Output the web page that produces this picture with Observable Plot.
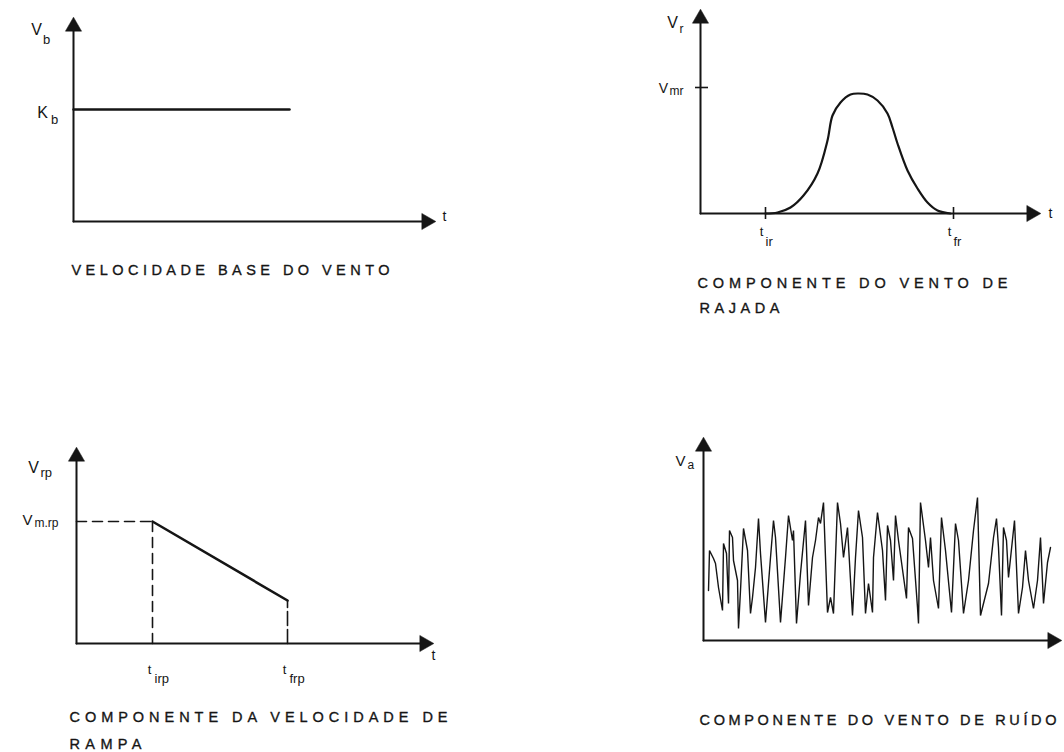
<!DOCTYPE html>
<html><head><meta charset="utf-8">
<script src="https://cdn.jsdelivr.net/npm/d3@7"></script>
<script src="https://cdn.jsdelivr.net/npm/@observablehq/plot@0.6"></script>
<style>
html,body{margin:0;padding:0;background:#fff;}
#fig{position:relative;width:1064px;height:752px;overflow:hidden;background:#fff;}
#fig svg{position:absolute;overflow:visible;}
</style></head><body><div id="fig"></div>
<script>
// ---------- data (time / speed in figure units) ----------
// Panel 1: velocidade base
const baseT = [0, 216];
const baseV = [112, 112];
const baseCaption = ["VELOCIDADE BASE DO VENTO"];

// Panel 2: componente de rajada
const gustT = [65, 77, 90, 103, 117, 127, 132, 140, 150, 158, 167, 177, 187, 192, 197, 207, 217, 227, 237, 250];
const gustV = [0, 1, 6, 18, 40, 73, 98, 111, 119, 120, 119, 113, 100, 86, 70, 43, 25, 11, 3, 0];
const gustTicks = [65, 253];
const gustTickNames = ["ir", "fr"];
const gustVmr = 126;
const gustCaption = ["COMPONENTE DO VENTO DE", "RAJADA"];

// Panel 3: componente de rampa
const rampT = [76, 211];
const rampV = [122, 43];
const rampTickNames = ["irp", "frp"];
const rampCaption = ["COMPONENTE DA VELOCIDADE DE", "RAMPA"];

// Panel 4: componente de ruído
const noiseT = [5,6,10,12,15,19,20,23,25,26,29,30,34,35,37,40,44,47,49,52,55,57,62,67,70,72,77,82,85,89,90,93,97,102,105,109,112,115,117,120,124,127,130,134,137,140,144,149,152,155,159,162,165,169,170,174,179,182,184,187,190,192,195,203,205,209,214,215,217,222,225,227,230,235,238,242,248,252,255,260,265,270,274,277,285,290,293,295,298,300,303,305,311,315,319,322,325,330,334,337,340,344,347];
const noiseV = [50,90,82,77,53,30,97,87,37,110,103,80,60,12,50,112,90,27,43,73,122,87,18,83,120,103,18,83,125,100,110,17,67,120,35,83,100,123,117,138,28,43,27,138,117,83,113,25,83,130,103,27,57,28,83,128,90,40,115,100,60,125,100,42,113,102,33,17,138,100,73,103,60,32,123,90,28,117,100,27,60,110,143,25,57,103,122,93,25,113,100,63,120,27,53,90,60,32,60,103,37,78,93];
const noiseCaption = ["COMPONENTE DO VENTO DE RUÍDO"];

// ---------- helpers ----------
const FONT = "'Liberation Sans', Arial, sans-serif";
const INK = "#151515";
const CAP = 14.5;

function frame(xMax, yMax) {
  return [
    Plot.line([[0, 0], [xMax - 8, 0]], {stroke: INK, strokeWidth: 2}),
    Plot.line([[0, 0], [0, yMax - 8]], {stroke: INK, strokeWidth: 2}),
    Plot.dot([[xMax, 0]], {symbol: "triangle", r: 6, rotate: 90, fill: INK, stroke: INK, strokeWidth: 0.5, dx: -6}),
    Plot.dot([[0, yMax]], {symbol: "triangle", r: 6, fill: INK, stroke: INK, strokeWidth: 0.5, dy: 6})
  ];
}
function label(x, y, text, opts) {
  return Plot.text([{x, y, text}], {x: "x", y: "y", text: "text", fill: INK, fontFamily: FONT, ...opts});
}
function capLabel(text, dx, dy) {
  return label(0, 0, text, {textAnchor: "start", fontSize: CAP, dx, dy, stroke: INK, strokeWidth: 0.35});
}

const fig = document.getElementById("fig");
const capWidths = new Map();

function panel({left, top, ml, mt, xMax, yMax, marks}) {
  const W = 532, H = 376;
  const svg = Plot.plot({
    width: W, height: H,
    marginLeft: ml, marginTop: mt,
    marginRight: W - ml - xMax, marginBottom: H - mt - yMax,
    x: {domain: [0, xMax], axis: null},
    y: {domain: [0, yMax], axis: null},
    style: {background: "transparent", fontFamily: FONT, overflow: "visible"},
    marks
  });
  svg.style.left = left + "px";
  svg.style.top = top + "px";
  fig.appendChild(svg);
  return svg;
}

// ---------- Panel 1 ----------
const p1x = 359, p1y = 201;
capWidths.set(baseCaption[0], 318);
panel({left: 0, top: 0, ml: 73, mt: 20, xMax: p1x, yMax: p1y, marks: [
  ...frame(p1x, p1y),
  Plot.line(baseT.map((t, i) => [t, baseV[i]]), {stroke: INK, strokeWidth: 2.5}),
  label(0, p1y, "V", {fontSize: 16, dx: -37, dy: 9}),
  label(0, p1y, "b", {fontSize: 13, dx: -27, dy: 19}),
  label(0, baseV[0], "K", {fontSize: 16, dx: -31, dy: 3}),
  label(0, baseV[0], "b", {fontSize: 13, dx: -19, dy: 10}),
  label(p1x, 0, "t", {fontSize: 14, dx: 12, dy: -5}),
  capLabel(baseCaption[0], -2, 49)
]});

// ---------- Panel 2 ----------
const p2x = 337, p2y = 201;
capWidths.set(gustCaption[0], 310);
capWidths.set(gustCaption[1], 80);
panel({left: 532, top: 0, ml: 168, mt: 12, xMax: p2x, yMax: p2y, marks: [
  ...frame(p2x, p2y),
  Plot.line(gustT.map((t, i) => [t, gustV[i]]), {stroke: INK, strokeWidth: 2.2, curve: "catmull-rom"}),
  Plot.ruleX(gustTicks, {y1: -6, y2: 6, stroke: INK, strokeWidth: 1.6}),
  Plot.ruleY([gustVmr], {x1: -5, x2: 8, stroke: INK, strokeWidth: 1.6}),
  label(0, p2y, "V", {fontSize: 16, dx: -28, dy: 10}),
  label(0, p2y, "r", {fontSize: 12, dx: -19, dy: 17}),
  label(0, gustVmr, "V", {fontSize: 14, dx: -37, dy: 1}),
  label(0, gustVmr, "mr", {fontSize: 12, dx: -31, dy: 4, textAnchor: "start"}),
  ...gustTicks.flatMap((t, i) => [
    label(t, 0, "t", {fontSize: 13, dx: -4, dy: 18}),
    label(t, 0, gustTickNames[i], {fontSize: 13, dx: 0, dy: 28, textAnchor: "start"})
  ]),
  label(p2x, 0, "t", {fontSize: 14, dx: 13, dy: 0}),
  capLabel(gustCaption[0], -3, 70),
  capLabel(gustCaption[1], -1, 95)
]});

// ---------- Panel 3 ----------
const p3x = 354, p3y = 193;
capWidths.set(rampCaption[0], 378);
capWidths.set(rampCaption[1], 72);
panel({left: 0, top: 376, ml: 76, mt: 74, xMax: p3x, yMax: p3y, marks: [
  ...frame(p3x, p3y),
  Plot.line([[0, rampV[0]], [rampT[0], rampV[0]]], {stroke: INK, strokeWidth: 1.6, strokeDasharray: "10,6"}),
  Plot.line([[rampT[0], 0], [rampT[0], rampV[0]]], {stroke: INK, strokeWidth: 1.6, strokeDasharray: "10,6"}),
  Plot.line([[rampT[1], 0], [rampT[1], rampV[1]]], {stroke: INK, strokeWidth: 1.6, strokeDasharray: "14,4"}),
  Plot.line(rampT.map((t, i) => [t, rampV[i]]), {stroke: INK, strokeWidth: 2.6}),
  label(0, p3y, "V", {fontSize: 16, dx: -43, dy: 17}),
  label(0, p3y, "rp", {fontSize: 13, dx: -36, dy: 22, textAnchor: "start"}),
  label(0, rampV[0], "V", {fontSize: 15, dx: -49, dy: -1}),
  label(0, rampV[0], "m.rp", {fontSize: 12, dx: -42, dy: 2, textAnchor: "start"}),
  ...rampT.map(t => label(t, 0, "t", {fontSize: 13, dx: -3, dy: 26})),
  ...rampT.map((t, i) => label(t, 0, rampTickNames[i], {fontSize: 13, dx: 2, dy: 35, textAnchor: "start"})),
  label(p3x, 0, "t", {fontSize: 14, dx: 3, dy: 12}),
  capLabel(rampCaption[0], -7, 74),
  capLabel(rampCaption[1], -7, 101)
]});

// ---------- Panel 4 ----------
const p4x = 355, p4y = 200;
capWidths.set(noiseCaption[0], 357);
panel({left: 532, top: 376, ml: 171, mt: 64, xMax: p4x, yMax: p4y, marks: [
  ...frame(p4x, p4y),
  Plot.line(noiseT.map((t, i) => [t, noiseV[i]]), {stroke: INK, strokeWidth: 1.4, strokeLinejoin: "miter"}),
  label(0, p4y, "V", {fontSize: 15, dx: -23, dy: 21}),
  label(0, p4y, "a", {fontSize: 12, dx: -16, dy: 25, textAnchor: "start"}),
  capLabel(noiseCaption[0], -4, 80)
]});

// stretch caption lettering like the original stencil spacing
fig.querySelectorAll("text").forEach(t => {
  const w = capWidths.get(t.textContent);
  if (w) { t.setAttribute("textLength", w); t.setAttribute("lengthAdjust", "spacing"); }
});
</script>
</body></html>
